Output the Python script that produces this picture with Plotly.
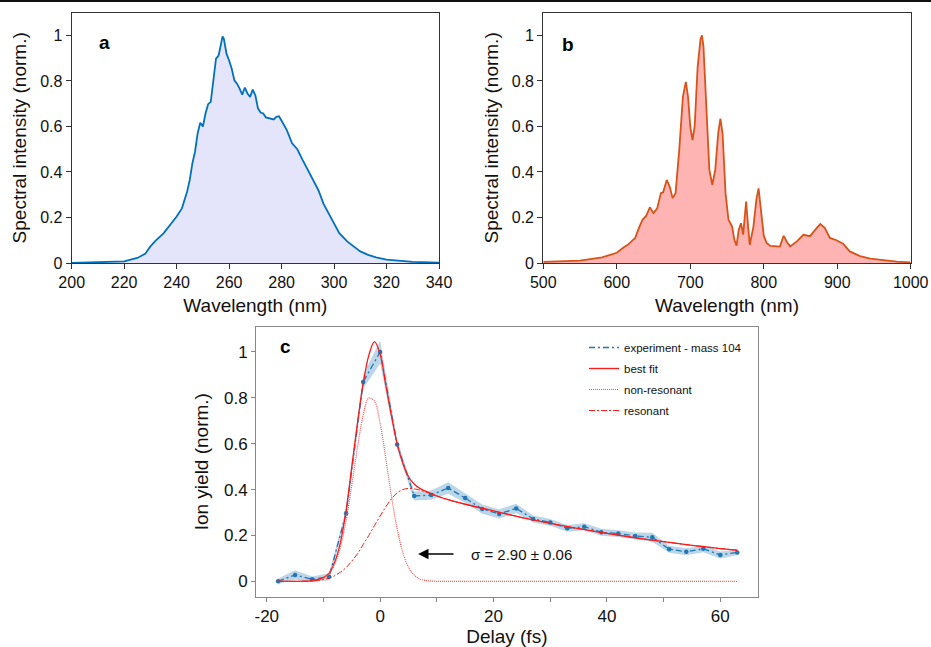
import plotly.graph_objects as go

# ---------------- Panel a: UV spectrum ----------------
wl_a = [200, 210, 215, 220, 225, 228, 230, 232, 235, 238, 240, 242, 244, 245, 246, 247, 248,
        249, 250, 251, 252, 253, 254, 255, 256, 257, 257.5, 258, 259, 260, 261, 262, 263, 264,
        265, 266, 267, 268, 269, 270, 271, 272, 273, 274, 275, 276, 277, 278, 279, 280, 282,
        284, 286, 288, 290, 292, 294, 296, 298, 300, 302, 305, 308, 310, 313, 316, 320, 325,
        330, 340]
int_a = [0.0, 0.002, 0.005, 0.007, 0.022, 0.04, 0.073, 0.098, 0.13, 0.175, 0.204, 0.24, 0.314,
         0.365, 0.438, 0.489, 0.57, 0.616, 0.60, 0.657, 0.698, 0.708, 0.80, 0.898, 0.912, 0.963,
         0.996, 0.985, 0.92, 0.89, 0.854, 0.803, 0.788, 0.766, 0.74, 0.771, 0.745, 0.73, 0.762,
         0.737, 0.679, 0.661, 0.657, 0.64, 0.638, 0.635, 0.631, 0.642, 0.645, 0.625, 0.584,
         0.526, 0.50, 0.453, 0.409, 0.358, 0.321, 0.26, 0.219, 0.175, 0.131, 0.095, 0.066,
         0.051, 0.036, 0.025, 0.015, 0.009, 0.005, 0.001]

# ---------------- Panel b: visible/NIR spectrum ----------------
wl_b = [500, 550, 580, 600, 610, 615, 620, 625, 630, 635, 640, 645, 650, 655, 660, 663, 668,
        672, 676, 680, 685, 690, 694, 697, 700, 703, 706, 710, 714, 716, 718, 722, 726, 730,
        734, 738, 741, 744, 748, 752, 757, 760, 763, 766, 769, 772, 776, 779, 781, 786, 790,
        793, 797, 800, 804, 809, 818, 822, 827, 832, 836, 845, 854, 863, 872, 877, 883, 890,
        899, 908, 917, 931, 945, 963, 981, 1000]
int_b = [0.005, 0.01, 0.025, 0.045, 0.07, 0.08, 0.095, 0.11, 0.153, 0.19, 0.207, 0.245, 0.219,
         0.24, 0.307, 0.31, 0.365, 0.336, 0.285, 0.307, 0.496, 0.73, 0.796, 0.73, 0.60, 0.54,
         0.60, 0.86, 0.985, 1.0, 0.95, 0.642, 0.409, 0.343, 0.409, 0.569, 0.635, 0.569, 0.307,
         0.19, 0.16, 0.102, 0.076, 0.146, 0.175, 0.125, 0.27, 0.15, 0.08, 0.16, 0.28, 0.328,
         0.22, 0.12, 0.088, 0.075, 0.073, 0.072, 0.12, 0.09, 0.073, 0.095, 0.124, 0.118, 0.153,
         0.171, 0.155, 0.11, 0.1, 0.085, 0.051, 0.03, 0.019, 0.012, 0.006, 0.003]

# ---------------- Panel c: delay scan ----------------
delay = [-18, -15, -12, -9, -6, -3, 0, 3, 6, 9, 12, 15, 18, 21, 24, 27, 30, 33, 36, 39, 42,
         45, 48, 51, 54, 57, 60, 63]
ion_yield = [0.0, 0.028, 0.009, 0.02, 0.297, 0.869, 1.0, 0.596, 0.372, 0.376, 0.407, 0.363,
             0.315, 0.294, 0.318, 0.272, 0.257, 0.231, 0.238, 0.214, 0.208, 0.198, 0.192,
             0.14, 0.129, 0.142, 0.115, 0.126]
ion_err = [0.012, 0.02, 0.012, 0.015, 0.02, 0.03, 0.05, 0.02, 0.02, 0.02, 0.025, 0.02, 0.02,
           0.02, 0.02, 0.015, 0.015, 0.015, 0.015, 0.015, 0.015, 0.015, 0.02, 0.015, 0.015,
           0.015, 0.015, 0.012]

fit_t = [-18, -14, -12, -10, -9, -8, -7, -6, -5, -4, -3, -2, -1, 0, 1, 2, 3, 4, 5, 6, 7, 8,
         10, 12, 15, 20, 25, 30, 35, 40, 45, 50, 55, 60, 63]
best_fit = [0.0, 0.0, 0.003, 0.016, 0.036, 0.085, 0.17, 0.31, 0.5, 0.69, 0.862, 0.985, 1.045,
            0.99, 0.855, 0.72, 0.6, 0.515, 0.456, 0.424, 0.405, 0.393, 0.372, 0.356, 0.336,
            0.307, 0.278, 0.253, 0.23, 0.209, 0.19, 0.173, 0.157, 0.143, 0.136]
nonres = [0.0, 0.0, 0.0, 0.014, 0.035, 0.077, 0.152, 0.267, 0.419, 0.583, 0.724, 0.799,
          0.785, 0.687, 0.535, 0.37, 0.229, 0.126, 0.061, 0.027, 0.01, 0.004, 0.0, 0.0, 0.0,
          0.0, 0.0, 0.0, 0.0, 0.0, 0.0, 0.0, 0.0, 0.0, 0.0]
resonant = [0.0, 0.0, 0.002, 0.008, 0.014, 0.025, 0.04, 0.06, 0.088, 0.12, 0.16, 0.2, 0.243,
            0.285, 0.325, 0.36, 0.385, 0.4, 0.405, 0.403, 0.398, 0.39, 0.372, 0.356, 0.336,
            0.307, 0.278, 0.253, 0.23, 0.209, 0.19, 0.173, 0.157, 0.143, 0.136]

FONT = "Liberation Sans, Arial, Helvetica, sans-serif"
BLUE_A = "#0072BD"
ORANGE_B = "#D95319"
C_BLUE = "#1f77b4"

fig = go.Figure()

# Panel a
fig.add_trace(go.Scatter(x=wl_a, y=int_a, mode="lines", fill="tozeroy",
                         fillcolor="rgb(228,228,250)", line=dict(color=BLUE_A, width=1.8),
                         xaxis="x", yaxis="y", showlegend=False))
# Panel b
fig.add_trace(go.Scatter(x=wl_b, y=int_b, mode="lines", fill="tozeroy",
                         fillcolor="rgb(255,180,180)", line=dict(color=ORANGE_B, width=1.8),
                         xaxis="x2", yaxis="y2", showlegend=False))

# Panel c: error band
lower = [v - e for v, e in zip(ion_yield, ion_err)]
upper = [v + e for v, e in zip(ion_yield, ion_err)]
fig.add_trace(go.Scatter(x=delay, y=lower, mode="lines", line=dict(width=0, color=C_BLUE),
                         xaxis="x3", yaxis="y3", showlegend=False, hoverinfo="skip"))
fig.add_trace(go.Scatter(x=delay, y=upper, mode="lines", line=dict(width=0, color=C_BLUE),
                         fill="tonexty", fillcolor="rgba(31,119,180,0.3)",
                         xaxis="x3", yaxis="y3", showlegend=False, hoverinfo="skip"))
fig.add_trace(go.Scatter(x=delay, y=ion_yield, mode="lines", name="experiment - mass 104",
                         line=dict(color=C_BLUE, width=1.3, dash="6px,3px,2px,3px"),
                         xaxis="x3", yaxis="y3", legendgroup="g1"))
fig.add_trace(go.Scatter(x=delay, y=ion_yield, mode="markers",
                         marker=dict(color=C_BLUE, size=4.5),
                         xaxis="x3", yaxis="y3", showlegend=False, legendgroup="g1"))
fig.add_trace(go.Scatter(x=fit_t, y=best_fit, mode="lines", name="best fit",
                         line=dict(color="#ff1a1a", width=1.3, shape="spline"),
                         xaxis="x3", yaxis="y3", legendgroup="g2"))
fig.add_trace(go.Scatter(x=fit_t, y=nonres, mode="lines", name="non-resonant",
                         line=dict(color="#ff5050", width=1.2, dash="1px,1px", shape="spline"),
                         xaxis="x3", yaxis="y3", legendgroup="g3"))
fig.add_trace(go.Scatter(x=fit_t, y=resonant, mode="lines", name="resonant",
                         line=dict(color="#ff1a1a", width=1, dash="6px,2px,2px,2px",
                                   shape="spline"),
                         xaxis="x3", yaxis="y3", legendgroup="g4"))

W, H = 931, 647
def px_x(p):
    return p / W
def px_y(p):
    return 1 - p / H

tickfont_ab = dict(family=FONT, size=16, color="#111")
titlefont = dict(family=FONT, size=19, color="#111")
frame_ab = dict(showline=True, linecolor="#333", linewidth=1.2, mirror=True,
                ticks="outside", ticklen=5, tickcolor="#333", tickwidth=1.2,
                showgrid=False, zeroline=False, automargin=False)

fig.update_layout(
    width=W, height=H,
    margin=dict(l=0, r=0, t=0, b=0, autoexpand=False),
    paper_bgcolor="white", plot_bgcolor="white",
    font=dict(family=FONT, color="#111"),
    xaxis=dict(domain=[px_x(71.7), px_x(439)], range=[200, 340], tickvals=list(range(200, 341, 20)),
               tickfont=tickfont_ab, anchor="y",
               title=dict(text="Wavelength (nm)", font=titlefont, standoff=8), **frame_ab),
    yaxis=dict(domain=[px_y(263), px_y(12.7)], range=[0, 1.1],
               tickvals=[0, 0.2, 0.4, 0.6, 0.8, 1], ticktext=["0", "0.2", "0.4", "0.6", "0.8", "1"],
               tickfont=tickfont_ab, anchor="x",
               title=dict(text="Spectral intensity (norm.)", font=titlefont, standoff=8), **frame_ab),
    xaxis2=dict(domain=[px_x(543.3), px_x(910.7)], range=[500, 1000],
                tickvals=list(range(500, 1001, 100)),
                tickfont=tickfont_ab, anchor="y2",
                title=dict(text="Wavelength (nm)", font=titlefont, standoff=8), **frame_ab),
    yaxis2=dict(domain=[px_y(263), px_y(12.7)], range=[0, 1.1],
                tickvals=[0, 0.2, 0.4, 0.6, 0.8, 1], ticktext=["0", "0.2", "0.4", "0.6", "0.8", "1"],
                tickfont=tickfont_ab, anchor="x2",
                title=dict(text="Spectral intensity (norm.)", font=titlefont, standoff=8), **frame_ab),
    xaxis3=dict(domain=[px_x(256), px_x(757.7)], range=[-21.9, 66.6],
                tickvals=[-20, -10, 0, 10, 20, 30, 40, 50, 60],
                ticktext=["-20", "", "0", "", "20", "", "40", "", "60"],
                tickfont=dict(family=FONT, size=17, color="#111"), anchor="y3",
                showline=True, linecolor="#888", linewidth=1, mirror=True, automargin=False,
                ticks="outside", ticklen=4, tickcolor="#888", showgrid=False, zeroline=False,
                title=dict(text="Delay (fs)", font=titlefont, standoff=4)),
    yaxis3=dict(domain=[px_y(596.7), px_y(326.7)], range=[-0.067, 1.11],
                tickvals=[0, 0.2, 0.4, 0.6, 0.8, 1], ticktext=["0", "0.2", "0.4", "0.6", "0.8", "1"],
                tickfont=dict(family=FONT, size=17, color="#111"), anchor="x3",
                showline=True, linecolor="#888", linewidth=1, mirror=True, automargin=False,
                ticks="outside", ticklen=4, tickcolor="#888", showgrid=False, zeroline=False,
                title=dict(text="Ion yield (norm.)", font=titlefont, standoff=10)),
    legend=dict(x=px_x(584), y=px_y(333), xanchor="left", yanchor="top",
                bgcolor="rgba(255,255,255,0)", borderwidth=0,
                font=dict(family=FONT, size=11.5, color="#111"), tracegroupgap=2,
                itemwidth=30),
    shapes=[dict(type="line", xref="paper", yref="paper", x0=0, x1=1,
                 y0=1 - 1.0 / H, y1=1 - 1.0 / H,
                 line=dict(color="#111", width=2))],
    annotations=[
        dict(text="<b>a</b>", x=px_x(97), y=px_y(30), xref="paper", yref="paper",
             showarrow=False, font=dict(family=FONT, size=19, color="#000")),
        dict(text="<b>b</b>", x=px_x(568), y=px_y(32), xref="paper", yref="paper",
             showarrow=False, font=dict(family=FONT, size=19, color="#000")),
        dict(text="<b>c</b>", x=px_x(278), y=px_y(347), xref="paper", yref="paper",
             showarrow=False, font=dict(family=FONT, size=19, color="#000")),
        dict(text="", x=6.7, y=0.119, ax=13.2, ay=0.119, xref="x3", yref="y3",
             axref="x3", ayref="y3", showarrow=True, arrowhead=2, arrowsize=1.3,
             arrowwidth=1.6, arrowcolor="#000"),
        dict(text="σ = 2.90 ± 0.06", x=24.9, y=0.119, xref="x3", yref="y3",
             showarrow=False, font=dict(family=FONT, size=15, color="#111")),
    ],
)

fig.write_html("out.html", config={"displayModeBar": False},
               post_script="document.body.style.margin='0';document.body.style.overflow='hidden';")
